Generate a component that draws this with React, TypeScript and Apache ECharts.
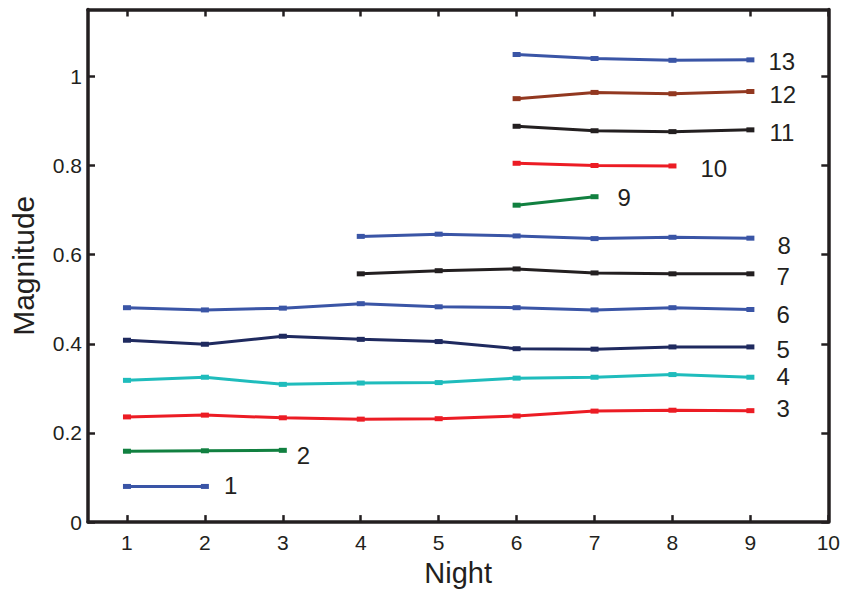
import React, { useEffect, useRef } from "react";
import * as echarts from "echarts";

const seriesNames = ["1", "2", "3", "4", "5", "6", "7", "8", "9", "10", "11", "12", "13"];
const startNight = [1, 1, 1, 1, 1, 1, 4, 4, 6, 6, 6, 6, 6];
const mag1 = [0.08, 0.08];
const mag2 = [0.159, 0.16, 0.161];
const mag3 = [0.236, 0.24, 0.234, 0.231, 0.232, 0.238, 0.249, 0.251, 0.25];
const mag4 = [0.318, 0.325, 0.309, 0.312, 0.313, 0.323, 0.325, 0.331, 0.325];
const mag5 = [0.408, 0.399, 0.417, 0.41, 0.405, 0.389, 0.388, 0.393, 0.393];
const mag6 = [0.481, 0.476, 0.48, 0.49, 0.483, 0.481, 0.476, 0.481, 0.477];
const mag7 = [0.557, 0.564, 0.568, 0.559, 0.557, 0.557];
const mag8 = [0.641, 0.646, 0.642, 0.636, 0.639, 0.637];
const mag9 = [0.711, 0.73];
const mag10 = [0.805, 0.8, 0.799];
const mag11 = [0.888, 0.878, 0.876, 0.88];
const mag12 = [0.95, 0.964, 0.961, 0.966];
const mag13 = [1.049, 1.04, 1.036, 1.037];
const allMags = [mag1, mag2, mag3, mag4, mag5, mag6, mag7, mag8, mag9, mag10, mag11, mag12, mag13];

const xTicks = [1, 2, 3, 4, 5, 6, 7, 8, 9, 10];
const yTicks = [0, 0.2, 0.4, 0.6, 0.8, 1];

const colors = [
  "#3a55a6", "#118040", "#ec1c24", "#1fbcbc", "#1f2a5f", "#3a55a6", "#231f20",
  "#3a55a6", "#118040", "#ec1c24", "#231f20", "#923820", "#3a55a6",
];
// label offsets [dx, dy] relative to the last point
const labelOffsets: number[][] = [
  [19, -1], [14, 5], [26, -2], [26, -1], [26, 3], [26, 5], [26, 3], [27, 7],
  [23, 1], [28, 3], [19, 3], [19, 3], [18, 2],
];

const FONT = "'Liberation Sans', Arial, Helvetica, sans-serif";
const INK = "#231f20";

export default function App() {
  const ref = useRef<HTMLDivElement>(null);
  useEffect(() => {
    if (!ref.current) return;
    const chart = echarts.init(ref.current, null, { renderer: "svg" });
    const series = allMags.map((mags, i) => ({
      type: "line",
      name: seriesNames[i],
      data: mags.map((v, j) => [startNight[i] + j, v]),
      xAxisIndex: 0,
      yAxisIndex: 0,
      symbol: "rect",
      symbolSize: [8, 5],
      showSymbol: true,
      itemStyle: { color: colors[i] },
      lineStyle: { color: colors[i], width: 3 },
      endLabel: {
        show: true,
        formatter: seriesNames[i],
        color: INK,
        fontSize: 24,
        lineHeight: 24,
        fontFamily: FONT,
        distance: 0,
        offset: labelOffsets[i],
      },
      silent: true,
    }));
    const axisCommon = {
      type: "value",
      axisLine: { show: true, onZero: false, lineStyle: { color: INK, width: 3.5 } },
      axisTick: { show: true, inside: true, length: 7, lineStyle: { color: INK, width: 2.5 } },
      splitLine: { show: false },
    };
    chart.setOption({
      animation: false,
      backgroundColor: "#ffffff",
      grid: { left: 86, right: 13.5, top: 9.5, bottom: 65.5, containLabel: false },
      xAxis: [
        {
          ...axisCommon,
          position: "bottom",
          min: 0.5,
          max: 10,
          name: "Night",
          nameLocation: "middle",
          nameGap: 34,
          nameTextStyle: { color: INK, fontSize: 29, fontFamily: FONT },
          axisTick: { ...axisCommon.axisTick, customValues: xTicks },
          axisLabel: { customValues: xTicks, color: INK, fontSize: 21, fontFamily: FONT, margin: 10 },
        },
        {
          ...axisCommon,
          position: "top",
          min: 0.5,
          max: 10,
          axisTick: { ...axisCommon.axisTick, customValues: xTicks },
          axisLabel: { show: false },
        },
      ],
      yAxis: [
        {
          ...axisCommon,
          position: "left",
          min: 0,
          max: 1.15,
          name: "Magnitude",
          nameLocation: "middle",
          nameGap: 50,
          nameTextStyle: { color: INK, fontSize: 30, fontFamily: FONT },
          axisTick: { ...axisCommon.axisTick, customValues: yTicks },
          axisLabel: { customValues: yTicks, color: INK, fontSize: 21, fontFamily: FONT, margin: 6 },
        },
        {
          ...axisCommon,
          position: "right",
          min: 0,
          max: 1.15,
          axisTick: { ...axisCommon.axisTick, customValues: yTicks },
          axisLabel: { show: false },
        },
      ],
      series,
    });
    return () => chart.dispose();
  }, []);
  return (
    <div
      ref={ref}
      style={{ position: "absolute", left: 0, top: 0, width: 843, height: 592, background: "#fff" }}
    />
  );
}
